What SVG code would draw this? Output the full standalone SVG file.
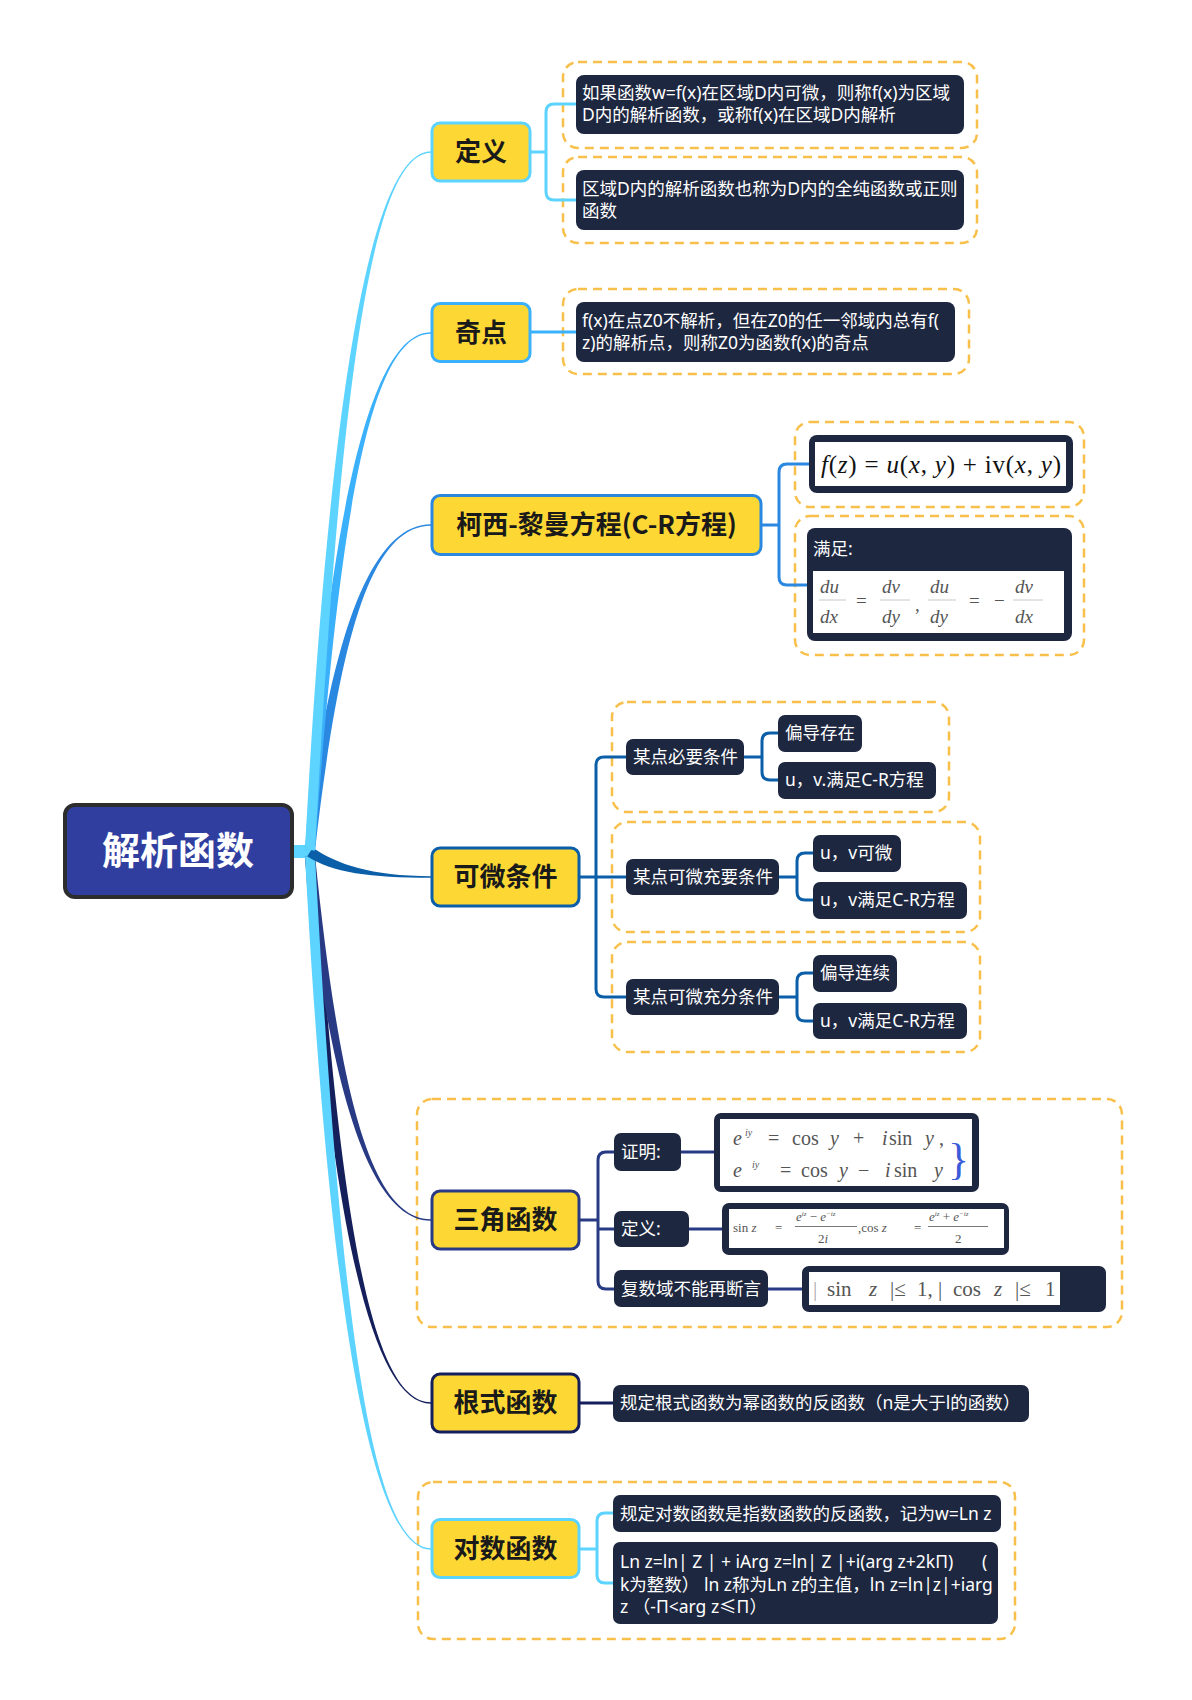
<svg xmlns="http://www.w3.org/2000/svg" width="1192" height="1700" viewBox="0 0 1192 1700">
<style>
.n1{fill:#fdd835;stroke-width:3}
.t1{font-family:'Noto Sans CJK SC','Noto Sans',sans-serif;font-weight:700;font-size:26px;fill:#1a1a1a;text-anchor:middle}
.box{fill:#1e2740}
.t2{font-family:'Noto Sans','Noto Sans CJK SC',sans-serif;font-size:17.5px;fill:#ffffff}
.bd{fill:none;stroke:#f8c04a;stroke-width:2.5;stroke-dasharray:9 6}
.ln{fill:none;stroke-width:3}
.wh{fill:#ffffff}
.m{font-family:'Liberation Serif','DejaVu Serif',serif;fill:#555}
.mi{font-style:italic}
.fr{stroke:#c8c8c8;stroke-width:1}
</style>
<rect width="1192" height="1700" fill="#ffffff"/>

<!-- dashed boundaries -->
<g id="boundaries">
<rect class="bd" x="563" y="62" width="414" height="86" rx="15"/>
<rect class="bd" x="563" y="157" width="414" height="86" rx="15"/>
<rect class="bd" x="563" y="289" width="406" height="85" rx="15"/>
<rect class="bd" x="795" y="422" width="289" height="85" rx="15"/>
<rect class="bd" x="795" y="516" width="289" height="139" rx="15"/>
<rect class="bd" x="612" y="702" width="337" height="110" rx="15"/>
<rect class="bd" x="612" y="822" width="368" height="110" rx="15"/>
<rect class="bd" x="612" y="942" width="368" height="110" rx="15"/>
<rect class="bd" x="417" y="1099" width="705" height="228" rx="15"/>
<rect class="bd" x="418" y="1482" width="597" height="157" rx="15"/>
</g>

<!-- connectors -->
<g id="connectors">
<rect x="293" y="845" width="22" height="13" fill="#5dd3ff"/>
<path fill="#141f5c" d="M314.99,855.66 C339.19,1211.26 370.5,1402.25 431,1402.25 L431,1403.75 C370.5,1403.75 329.21,1211.94 305.01,856.34 Z"/>
<path fill="#283a84" d="M314.97,855.5 C339.17,1092.1 370.5,1219.25 431,1219.25 L431,1220.75 C370.5,1220.75 329.23,1093.1 305.03,856.5 Z"/>
<path fill="#5dd3ff" d="M314.99,855.73 C339.19,1306.23 370.5,1548.25 431,1548.25 L431,1549.75 C370.5,1549.75 329.21,1306.77 305.01,856.27 Z"/>
<path fill="#0b5fa8" d="M312.8,847.85 C337,864.1 370.5,876.25 431,876.25 L431,877.75 C370.5,877.75 331.4,872.4 307.2,856.15 Z"/>
<path fill="#2a88e0" d="M305.03,849.43 C329.23,638.43 370.5,524.25 431,524.25 L431,525.75 C370.5,525.75 339.17,639.57 314.97,850.57 Z"/>
<path fill="#3bb0fb" d="M305,849.6 C329.2,513.6 370.5,332.25 431,332.25 L431,333.75 C370.5,333.75 339.2,514.4 315,850.4 Z"/>
<path fill="#5dd3ff" d="M305,849.7 C329.2,396 370.5,151.25 431,151.25 L431,152.75 C370.5,152.75 339.2,396.6 315,850.3 Z"/>

<path class="ln" stroke="#5dd3ff" d="M531,152 H546 M576,104 H554 Q546,104 546,112 V192 Q546,200 554,200 H576"/>
<path class="ln" stroke="#3bb0fb" d="M531,332 H576"/>
<path class="ln" stroke="#2a88e0" d="M762,525 H779 M809,464 H787 Q779,464 779,472 V577 Q779,585 787,585 H809"/>
<path class="ln" stroke="#0b5fa8" d="M580,877 H626 M626,757 H604 Q596,757 596,765 V989 Q596,997 604,997 H626"/>
<path class="ln" stroke="#0b5fa8" d="M744,757 H762 M778,733 H770 Q762,733 762,741 V772 Q762,780 770,780 H778"/>
<path class="ln" stroke="#0b5fa8" d="M779,877 H797 M813,853 H805 Q797,853 797,861 V892 Q797,900 805,900 H813"/>
<path class="ln" stroke="#0b5fa8" d="M779,997 H797 M813,973 H805 Q797,973 797,981 V1013 Q797,1021 805,1021 H813"/>
<path class="ln" stroke="#283a84" d="M580,1220 H598 M614,1152 H606 Q598,1152 598,1160 V1281 Q598,1289 606,1289 H614 M598,1229 H614"/>
<path class="ln" stroke="#283a84" d="M681,1152 H714 M689,1229 H722 M768,1289 H802"/>
<path class="ln" stroke="#141f5c" d="M580,1403 H613"/>
<path class="ln" stroke="#5dd3ff" d="M580,1549 H597 M613,1513 H605 Q597,1513 597,1521 V1575 Q597,1583 605,1583 H613"/>
</g>

<!-- root -->
<g id="root">
<rect x="65" y="805" width="227" height="92" rx="10" fill="#303f9f" stroke="#2d2d2d" stroke-width="4"/>
<text x="178" y="864" font-family="'Noto Sans CJK SC','Noto Sans',sans-serif" font-weight="700" font-size="38" fill="#ffffff" text-anchor="middle">解析函数</text>
</g>

<!-- level 1 -->
<g id="n-dingyi"><rect class="n1" stroke="#5dd3ff" x="432" y="123" width="98" height="58" rx="8"/><text class="t1" x="481" y="161">定义</text></g>
<g id="n-qidian"><rect class="n1" stroke="#3bb0fb" x="432" y="303.5" width="98" height="58" rx="8"/><text class="t1" x="481" y="342">奇点</text></g>
<g id="n-cr"><rect class="n1" stroke="#2a88e0" x="432" y="495.5" width="329" height="59" rx="8"/><text class="t1" x="596.5" y="534">柯西-黎曼方程(C-R方程)</text></g>
<g id="n-kewei"><rect class="n1" stroke="#0b5fa8" x="432" y="848" width="147" height="58" rx="8"/><text class="t1" x="505.5" y="886">可微条件</text></g>
<g id="n-sanjiao"><rect class="n1" stroke="#283a84" x="432" y="1191" width="147" height="58" rx="8"/><text class="t1" x="505.5" y="1229">三角函数</text></g>
<g id="n-genshi"><rect class="n1" stroke="#141f5c" x="432" y="1374" width="147" height="58" rx="8"/><text class="t1" x="505.5" y="1412">根式函数</text></g>
<g id="n-duishu"><rect class="n1" stroke="#5dd3ff" x="432" y="1519.5" width="147" height="58" rx="8"/><text class="t1" x="505.5" y="1558">对数函数</text></g>

<!-- 定义 children -->
<g id="c-def1"><rect class="box" x="576" y="75" width="388" height="59" rx="8"/>
<text class="t2" x="582" y="99">如果函数w=f(x)在区域D内可微，则称f(x)为区域</text>
<text class="t2" x="582" y="121">D内的解析函数，或称f(x)在区域D内解析</text></g>
<g id="c-def2"><rect class="box" x="576" y="170" width="388" height="60" rx="8"/>
<text class="t2" x="582" y="195">区域D内的解析函数也称为D内的全纯函数或正则</text>
<text class="t2" x="582" y="217">函数</text></g>

<!-- 奇点 child -->
<g id="c-qidian"><rect class="box" x="576" y="302" width="379" height="60" rx="8"/>
<text class="t2" x="582" y="327">f(x)在点Z0不解析，但在Z0的任一邻域内总有f(</text>
<text class="t2" x="582" y="349">z)的解析点，则称Z0为函数f(x)的奇点</text></g>

<!-- C-R children -->
<g id="c-cr1"><rect class="box" x="809" y="435" width="264" height="58" rx="8"/>
<rect class="wh" x="815" y="442" width="251" height="44"/>
<text x="821" y="473" font-family="'Liberation Serif','DejaVu Serif',serif" font-size="25" fill="#111" textLength="240" lengthAdjust="spacing"><tspan font-style="italic">f</tspan>(<tspan font-style="italic">z</tspan>) = <tspan font-style="italic">u</tspan>(<tspan font-style="italic">x</tspan>, <tspan font-style="italic">y</tspan>) + iv(<tspan font-style="italic">x</tspan>, <tspan font-style="italic">y</tspan>)</text></g>
<g id="c-cr2"><rect class="box" x="807" y="528" width="265" height="113" rx="8"/>
<text class="t2" x="813" y="555">满足:</text>
<rect class="wh" x="813" y="571" width="251" height="62"/>
<g class="m mi" font-size="19" fill="#8a8a8a">
<text x="820" y="593">du</text><text x="820" y="623">dx</text>
<text x="882" y="593">dv</text><text x="882" y="623">dy</text>
<text x="930" y="593">du</text><text x="930" y="623">dy</text>
<text x="1015" y="593">dv</text><text x="1015" y="623">dx</text>
</g>
<g class="m" font-size="19" fill="#b5b5b5">
<text x="856" y="607">=</text><text x="915" y="611">,</text><text x="969" y="607">=</text><text x="994" y="607">−</text>
</g>
<path class="fr" d="M819,600 H846 M880,600 H910 M928,600 H956 M1013,600 H1043"/>
</g>

<!-- 可微条件 children -->
<g id="c-bi"><rect class="box" x="626" y="739" width="118" height="36" rx="7"/><text class="t2" x="633" y="763">某点必要条件</text></g>
<g id="c-bi1"><rect class="box" x="778" y="715" width="84" height="37" rx="7"/><text class="t2" x="785" y="739">偏导存在</text></g>
<g id="c-bi2"><rect class="box" x="778" y="762" width="158" height="37" rx="7"/><text class="t2" x="785" y="786">u，v.满足C-R方程</text></g>
<g id="c-cy"><rect class="box" x="626" y="859" width="153" height="36" rx="7"/><text class="t2" x="633" y="883">某点可微充要条件</text></g>
<g id="c-cy1"><rect class="box" x="813" y="835" width="88" height="37" rx="7"/><text class="t2" x="820" y="859">u，v可微</text></g>
<g id="c-cy2"><rect class="box" x="813" y="882" width="154" height="37" rx="7"/><text class="t2" x="820" y="906">u，v满足C-R方程</text></g>
<g id="c-cf"><rect class="box" x="626" y="979" width="153" height="36" rx="7"/><text class="t2" x="633" y="1003">某点可微充分条件</text></g>
<g id="c-cf1"><rect class="box" x="813" y="955" width="84" height="37" rx="7"/><text class="t2" x="820" y="979">偏导连续</text></g>
<g id="c-cf2"><rect class="box" x="813" y="1003" width="154" height="36" rx="7"/><text class="t2" x="820" y="1027">u，v满足C-R方程</text></g>

<!-- 三角函数 children -->
<g id="c-zm"><rect class="box" x="614" y="1133" width="67" height="38" rx="7"/><text class="t2" x="621" y="1158">证明:</text></g>
<g id="c-zm-f"><rect class="box" x="714" y="1113" width="265" height="79" rx="7"/>
<rect class="wh" x="720" y="1119" width="252" height="67"/>
<g class="m" font-size="20">
<text x="733" y="1145" class="mi">e</text><text x="745" y="1136" font-size="10" class="mi">iy</text>
<text x="768" y="1145">=</text><text x="792" y="1145">cos</text><text x="830" y="1145" class="mi">y</text>
<text x="853" y="1145">+</text><text x="882" y="1145" class="mi">i</text><text x="889" y="1145">sin</text><text x="925" y="1145" class="mi">y</text><text x="939" y="1145">,</text>
<text x="733" y="1177" class="mi">e</text><text x="752" y="1168" font-size="10" class="mi">iy</text>
<text x="780" y="1177">=</text><text x="801" y="1177">cos</text><text x="839" y="1177" class="mi">y</text>
<text x="858" y="1177">−</text><text x="885" y="1177" class="mi">i</text><text x="894" y="1177">sin</text><text x="934" y="1177" class="mi">y</text>
</g>
<text x="948" y="1174" font-family="'Liberation Serif','DejaVu Serif',serif" font-size="44" fill="#3a5bd9">}</text>
</g>
<g id="c-dy"><rect class="box" x="614" y="1211" width="75" height="36" rx="7"/><text class="t2" x="621" y="1235">定义:</text></g>
<g id="c-dy-f"><rect class="box" x="722" y="1203" width="287" height="52" rx="7"/>
<rect class="wh" x="729" y="1209" width="275" height="39"/>
<g class="m" font-size="13">
<text x="733" y="1232">sin <tspan class="mi">z</tspan></text><text x="775" y="1232">=</text>
<text x="796" y="1221"><tspan class="mi">e</tspan><tspan font-size="7" dy="-5" class="mi">iz</tspan><tspan dy="5"> − </tspan><tspan class="mi">e</tspan><tspan font-size="7" dy="-5" class="mi">−iz</tspan></text>
<text x="818" y="1243">2<tspan class="mi">i</tspan></text>
<text x="858" y="1232">,cos <tspan class="mi">z</tspan></text><text x="914" y="1232">=</text>
<text x="929" y="1221"><tspan class="mi">e</tspan><tspan font-size="7" dy="-5" class="mi">iz</tspan><tspan dy="5"> + </tspan><tspan class="mi">e</tspan><tspan font-size="7" dy="-5" class="mi">−iz</tspan></text>
<text x="955" y="1243">2</text>
</g>
<path stroke="#555" stroke-width="0.8" d="M795,1226.5 H857 M928,1226.5 H988"/>
</g>
<g id="c-fs"><rect class="box" x="614" y="1270" width="154" height="37" rx="7"/><text class="t2" x="621" y="1295">复数域不能再断言</text></g>
<g id="c-fs-f"><rect class="box" x="802" y="1266" width="304" height="46" rx="7"/>
<rect class="wh" x="809" y="1272" width="251" height="33"/>
<g class="m" font-size="21">
<text x="813" y="1296" fill="#aaa">|</text><text x="827" y="1296">sin</text><text x="869" y="1296" class="mi">z</text>
<text x="890" y="1296">|≤</text><text x="917" y="1296">1,</text><text x="938" y="1296">|</text>
<text x="953" y="1296">cos</text><text x="994" y="1296" class="mi">z</text><text x="1015" y="1296">|≤</text><text x="1045" y="1296">1</text>
</g>
</g>

<!-- 根式函数 child -->
<g id="c-gs"><rect class="box" x="613" y="1385" width="416" height="37" rx="7"/><text class="t2" x="620" y="1409">规定根式函数为幂函数的反函数（n是大于l的函数）</text></g>

<!-- 对数函数 children -->
<g id="c-ds1"><rect class="box" x="613" y="1495" width="388" height="37" rx="7"/><text class="t2" x="620" y="1520">规定对数函数是指数函数的反函数，记为w=Ln z</text></g>
<g id="c-ds2"><rect class="box" x="613" y="1542" width="385" height="82" rx="7"/>
<text class="t2" x="620" y="1568">Ln z=ln| Z | + iArg z=ln| Z |+i(arg z+2kΠ)<tspan x="982">(</tspan></text>
<text class="t2" x="620" y="1591">k为整数） ln z称为Ln z的主值，ln z=ln|z|+iarg</text>
<text class="t2" x="620" y="1613">z （-Π&lt;arg z≤Π）</text></g>
</svg>
